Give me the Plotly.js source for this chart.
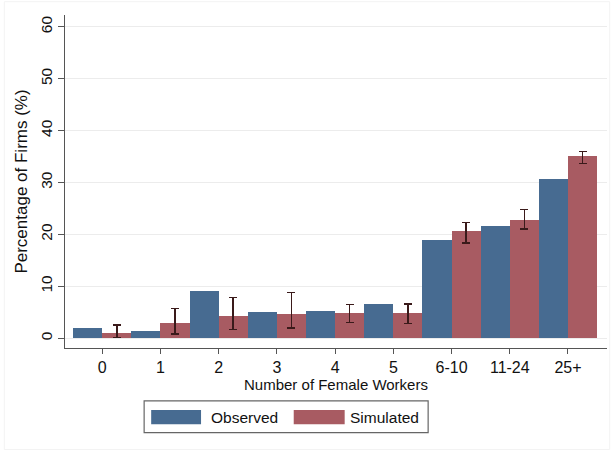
<!DOCTYPE html>
<html>
<head>
<meta charset="utf-8">
<script src="https://cdn.plot.ly/plotly-3.0.1.min.js"></script>
<style>html,body{margin:0;padding:0;background:#fff;}#chart{width:613px;height:453px;}</style>
</head>
<body>
<div id="chart"></div>
<script>
const categories = ["0","1","2","3","4","5","6-10","11-24","25+"];
const observed = [1.9, 1.4, 9.1, 5.0, 5.2, 6.5, 18.9, 21.7, 30.7];
const simulated = [0.9, 3.0, 4.2, 4.6, 4.8, 4.8, 20.7, 22.8, 35.2];
const simUpper = [2.5, 5.7, 7.8, 8.8, 6.5, 6.6, 22.3, 24.8, 36.0];
const simLower = [0.1, 0.8, 1.7, 1.9, 3.0, 2.8, 18.4, 21.0, 33.7];
const seriesNames = ["Observed", "Simulated"];
const colors = ["#476b91", "#a85b62"];

const errPlus = simUpper.map((u, i) => u - simulated[i]);
const errMinus = simLower.map((l, i) => simulated[i] - l);

const traces = [
  {type: "bar", x: categories, y: observed, name: seriesNames[0],
   marker: {color: colors[0], line: {width: 0}}, showlegend: false},
  {type: "bar", x: categories, y: simulated, name: seriesNames[1],
   marker: {color: colors[1], line: {width: 0}}, showlegend: false,
   error_y: {type: "data", symmetric: false, array: errPlus, arrayminus: errMinus,
             color: "#3a1a1a", thickness: 1.6, width: 4}}
];

const font = "Liberation Sans, Arial, sans-serif";
const layout = {
  width: 613, height: 453,
  margin: {l: 65, r: 6, t: 15, b: 105},
  paper_bgcolor: "#ffffff", plot_bgcolor: "#ffffff",
  barmode: "group", bargap: 0, bargroupgap: 0,
  font: {family: font, color: "#111", size: 15},
  xaxis: {
    type: "category", categoryorder: "array", categoryarray: categories,
    range: [-0.64, 8.67], showgrid: false, zeroline: false,
    showline: true, linecolor: "#555", linewidth: 1.2,
    ticks: "outside", ticklen: 5, tickcolor: "#555",
    tickfont: {size: 16, family: font},
    title: {text: "Number of Female Workers", font: {size: 15, family: font}, standoff: 2}
  },
  yaxis: {
    range: [-1.9, 62.3], tickvals: [0,10,20,30,40,50,60],
    showgrid: true, gridcolor: "#ececec", gridwidth: 1, zeroline: false,
    showline: true, linecolor: "#555", linewidth: 1.2,
    ticks: "outside", ticklen: 6, tickcolor: "#555",
    tickangle: -90, tickfont: {size: 15.5, family: font},
    title: {text: "Percentage of Firms (%)", font: {size: 17, family: font}, standoff: 5}
  },
  shapes: [
    {type: "rect", xref: "paper", yref: "paper", x0: -0.112, x1: 1.005, y0: -0.305, y1: 1.04,
     line: {color: "#f3f3f3", width: 1}, fillcolor: "rgba(0,0,0,0)"},
    {type: "rect", xref: "paper", yref: "paper", x0: 0.146, x1: 0.67, y0: -0.254, y1: -0.159,
     line: {color: "#666", width: 1.2}, fillcolor: "#fff"},
    {type: "rect", xref: "paper", yref: "paper", x0: 0.159, x1: 0.251, y0: -0.229, y1: -0.186,
     line: {width: 0}, fillcolor: colors[0]},
    {type: "rect", xref: "paper", yref: "paper", x0: 0.422, x1: 0.516, y0: -0.229, y1: -0.186,
     line: {width: 0}, fillcolor: colors[1]}
  ],
  annotations: [
    {xref: "paper", yref: "paper", x: 0.266, y: -0.2075, text: seriesNames[0], showarrow: false,
     xanchor: "left", yanchor: "middle", font: {size: 15.5, family: font, color: "#111"}},
    {xref: "paper", yref: "paper", x: 0.522, y: -0.2075, text: seriesNames[1], showarrow: false,
     xanchor: "left", yanchor: "middle", font: {size: 15.5, family: font, color: "#111"}}
  ]
};

Plotly.newPlot("chart", traces, layout, {displayModeBar: false, staticPlot: true});
</script>
</body>
</html>
